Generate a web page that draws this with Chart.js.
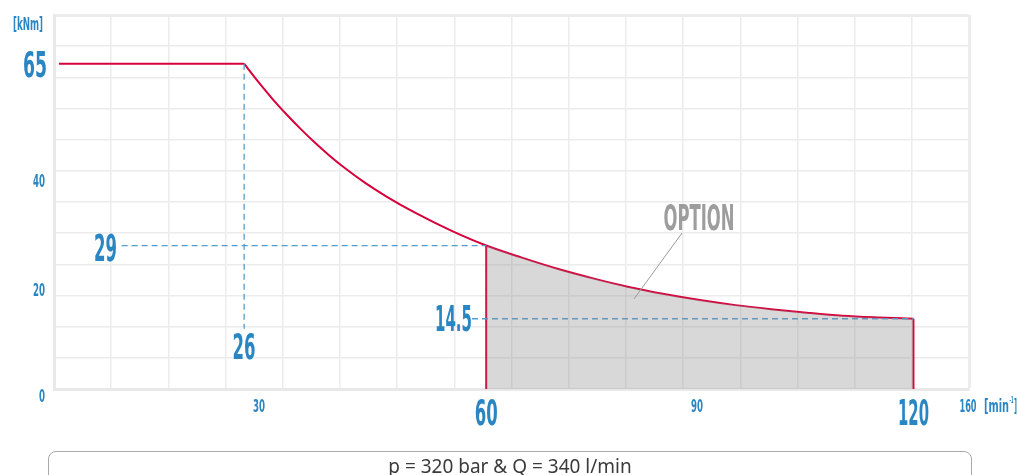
<!DOCTYPE html>
<html>
<head>
<meta charset="utf-8">
<script src="https://cdn.jsdelivr.net/npm/chart.js@4.4.1/dist/chart.umd.min.js"></script>
<style>
  html, body { margin: 0; padding: 0; background: #fff; }
  #wrap { position: relative; width: 1018px; height: 475px; overflow: hidden; }
  #chart { position: absolute; left: 0; top: 0; }
  #note {
    position: absolute; left: 48px; top: 451px; width: 924px; height: 40px;
    border: 1px solid #a8a8a8; border-radius: 8px; box-sizing: border-box;
    font: 19px "Noto Sans", sans-serif; color: #3a3a3a;
    text-align: center; line-height: 28px;
  }
</style>
</head>
<body>
<div id="wrap">
  <canvas id="chart" width="1018" height="475"></canvas>
  <div id="note">p = 320 bar &amp; Q = 340 l/min</div>
</div>
<script>
// ===============================
// DATA
// ===============================
const flatRpm = [0, 26];
const flatTorque = [65, 65];

const curveRpm = [26, 28, 30, 32, 34, 36, 38, 40, 43, 46, 50, 55, 60, 65, 70, 75, 80, 85, 90, 95, 100, 105, 110, 115, 120];
const curveTorque = [65, 61.4, 58, 54.9, 52, 49.3, 46.8, 44.5, 41.4, 38.7, 35.5, 32, 29, 26.6, 24.4, 22.5, 20.8, 19.4, 18.2, 17.2, 16.4, 15.7, 15.1, 14.75, 14.5];

const optionFrom = 60;   // shaded "OPTION" range
const optionTo = 120;

const cornerRpm = 26;     // end of constant torque
const maxTorque = 65;
const midRpm = 60;
const midTorque = 29;
const endRpm = 120;
const endTorque = 14.5;

const yTickLabels = ['40', '20', '0'];
const xTickLabels = ['30', '90', '160'];

const RED = '#d6003a';
const BLUE = '#2a86c3';
const DASH = '#4f9dd3';

const pts = (xs, ys) => xs.map((x, i) => ({ x: x, y: ys[i] }));

const optionPts = pts(curveRpm, curveTorque).filter(p => p.x >= optionFrom && p.x <= optionTo);

// ===============================
// LABELS PLUGIN
// ===============================
function label(ctx, text, x, y, h, w, color, align) {
    const size = h / 0.716;
    ctx.save();
    ctx.font = 'bold ' + size + 'px "Liberation Sans Narrow", "DejaVu Sans Condensed", sans-serif';
    ctx.fillStyle = color;
    ctx.textBaseline = 'alphabetic';
    const m = ctx.measureText(text).width;
    const sx = w / m;
    let left = x;
    if (align === 'center') left = x - w / 2;
    if (align === 'right') left = x - w;
    ctx.translate(left, y + h / 2);
    ctx.scale(sx, 1);
    ctx.textAlign = 'left';
    ctx.fillText(text, 0, 0);
    ctx.restore();
}

const labelsPlugin = {
    id: 'labels',
    afterDraw(chart) {
        const ctx = chart.ctx;
        const xs = chart.scales.x;
        const ys = chart.scales.y;

        // unit label
        label(ctx, '[kNm]', 28, 24, 12, 30, BLUE, 'center');

        // y side
        label(ctx, String(maxTorque), 47, ys.getPixelForValue(maxTorque), 26, 24, BLUE, 'right');
        label(ctx, String(midTorque), 117, ys.getPixelForValue(midTorque) + 1.5, 27, 23, BLUE, 'right');
        label(ctx, String(endTorque), 472, ys.getPixelForValue(endTorque) - 1, 26, 37, BLUE, 'right');
        label(ctx, yTickLabels[0], 45, 180.5, 13, 12, BLUE, 'right');
        label(ctx, yTickLabels[1], 45, 289, 13, 12, BLUE, 'right');
        label(ctx, yTickLabels[2], 45, 395, 13, 6, BLUE, 'right');

        // x side
        label(ctx, String(cornerRpm), xs.getPixelForValue(cornerRpm), 346, 26, 23, BLUE, 'center');
        label(ctx, String(midRpm), xs.getPixelForValue(midRpm), 412, 26, 23, BLUE, 'center');
        label(ctx, String(endRpm), xs.getPixelForValue(endRpm), 412, 26, 31, BLUE, 'center');
        label(ctx, xTickLabels[0], 259, 405, 13, 12, BLUE, 'center');
        label(ctx, xTickLabels[1], 697, 405, 13, 12, BLUE, 'center');
        label(ctx, xTickLabels[2], 968, 405, 13, 17, BLUE, 'center');
        label(ctx, '[min', 984, 405, 13, 25, BLUE, 'left');
        label(ctx, '-1', 1009.5, 400, 6, 4, BLUE, 'left');
        label(ctx, ']', 1014, 405, 13, 3, BLUE, 'left');

        // option callout
        label(ctx, 'OPTION', 699, 217.5, 25, 71, '#9d9d9d', 'center');
        ctx.save();
        ctx.strokeStyle = '#9a9a9a';
        ctx.lineWidth = 1;
        ctx.beginPath();
        ctx.moveTo(682, 233);
        ctx.lineTo(634, 299);
        ctx.stroke();
        ctx.restore();
    }
};

// ===============================
// CHART
// ===============================
const dashed = (data) => ({
    data: data,
    borderColor: DASH,
    borderWidth: 1.3,
    borderDash: [6, 4],
    pointRadius: 0,
    fill: false
});

const redLine = (data) => ({
    data: data,
    borderColor: RED,
    borderWidth: 2,
    pointRadius: 0,
    fill: false
});

new Chart(document.getElementById('chart'), {
    type: 'line',
    data: {
        datasets: [
            {
                data: optionPts,
                borderWidth: 0,
                borderColor: 'rgba(0,0,0,0)',
                backgroundColor: 'rgba(140,140,140,0.34)',
                pointRadius: 0,
                cubicInterpolationMode: 'monotone',
                fill: 'origin'
            },
            dashed([{ x: 8.8, y: midTorque }, { x: midRpm, y: midTorque }]),
            dashed([{ x: cornerRpm, y: maxTorque }, { x: cornerRpm, y: 12.5 }]),
            dashed([{ x: 58, y: endTorque }, { x: endRpm, y: endTorque }]),
            redLine(pts(flatRpm, flatTorque)),
            Object.assign(redLine(pts(curveRpm, curveTorque)), { cubicInterpolationMode: 'monotone' }),
            redLine([{ x: optionFrom, y: 0 }, { x: optionFrom, y: midTorque }]),
            redLine([{ x: optionTo, y: 0 }, { x: optionTo, y: endTorque }])
        ]
    },
    options: {
        responsive: false,
        animation: false,
        layout: {
            padding: { left: 54, right: 49, top: 15, bottom: 86 }
        },
        plugins: {
            legend: { display: false },
            tooltip: { enabled: false }
        },
        scales: {
            x: { type: 'linear', display: false, min: -0.7, max: 127.8 },
            y: { type: 'linear', display: false, min: 0.59, max: 74.65 },
            gx: {
                type: 'linear', position: 'bottom', min: 0, max: 16,
                ticks: { display: false, stepSize: 1 },
                grid: {
                    drawTicks: false,
                    color: '#ececec',
                    lineWidth: (c) => (c.index === 16 ? 3 : 1.5)
                },
                border: { display: true, color: '#e8e8e8', width: 3 }
            },
            gy: {
                type: 'linear', position: 'left', min: 0, max: 12,
                ticks: { display: false, stepSize: 1 },
                grid: {
                    drawTicks: false,
                    color: '#ececec',
                    lineWidth: (c) => (c.index === 12 ? 3 : 1.5)
                },
                border: { display: true, color: '#e8e8e8', width: 3 }
            }
        }
    },
    plugins: [labelsPlugin]
});
</script>
</body>
</html>
